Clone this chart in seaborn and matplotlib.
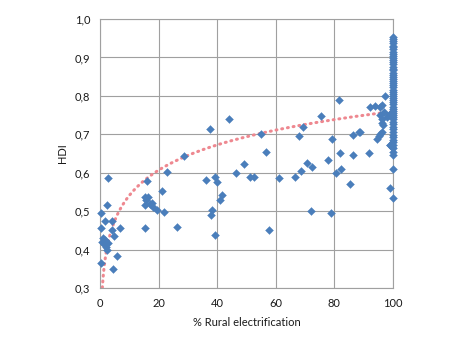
import numpy as np
import pandas as pd
import matplotlib
matplotlib.use("Agg")
import matplotlib.pyplot as plt
import seaborn as sns

# --- data ---
rural_low = [0.2, 2.3, 2.7, 1.7, 4.0, 0.2, 4.0, 6.8, 4.9, 1.1, 1.7, 0.8, 2.3, 1.5, 2.8, 2.1, 2.3, 5.7, 0.2, 4.5]
hdi_low = [0.494, 0.517, 0.585, 0.474, 0.474, 0.455, 0.452, 0.457, 0.435, 0.429, 0.424, 0.420, 0.417, 0.414,
           0.416, 0.407, 0.398, 0.383, 0.364, 0.349]

rural_mid1 = [16.0, 15.4, 16.5, 15.6, 15.4, 17.1, 17.9, 18.2, 19.4, 22.0, 21.3, 22.7, 15.4, 26.4, 28.8]
hdi_mid1 = [0.579, 0.537, 0.536, 0.529, 0.516, 0.518, 0.520, 0.511, 0.502, 0.498, 0.552, 0.603, 0.457, 0.459, 0.644]

rural_mid2 = [37.6, 44.1, 36.3, 39.4, 39.8, 41.6, 41.1, 38.3, 37.9, 39.1, 46.5, 49.0, 51.3, 52.5, 54.9, 56.7, 57.8]
hdi_mid2 = [0.715, 0.739, 0.581, 0.588, 0.575, 0.543, 0.529, 0.502, 0.489, 0.437, 0.599, 0.622, 0.588, 0.588,
            0.700, 0.654, 0.450]

rural_high = [61.2, 66.7, 67.8, 68.7, 69.3, 70.7, 72.2, 72.1, 75.5, 77.8, 79.0, 79.2, 80.4, 81.5, 81.9, 82.1,
              85.2, 86.4, 86.4, 88.3, 88.9]
hdi_high = [0.586, 0.589, 0.696, 0.604, 0.718, 0.625, 0.614, 0.500, 0.748, 0.634, 0.494, 0.689, 0.598, 0.788,
            0.652, 0.609, 0.570, 0.697, 0.646, 0.705, 0.705]

rural_near_full = [91.8, 92.3, 94.0, 95.7, 96.3, 97.4, 96.8, 95.7, 96.3, 96.1, 96.5, 98.0, 98.5, 99.1, 94.6,
                   95.1, 95.7, 96.3, 99.1, 99.7, 98.9, 98.9]
hdi_near_full = [0.652, 0.772, 0.774, 0.770, 0.777, 0.799, 0.759, 0.750, 0.741, 0.730, 0.724, 0.746, 0.750,
                 0.754, 0.689, 0.695, 0.702, 0.707, 0.672, 0.667, 0.559, 0.672]

hdi_full = [0.954, 0.948, 0.942, 0.937, 0.931, 0.926, 0.921, 0.915, 0.909, 0.904, 0.899, 0.893, 0.888, 0.882,
            0.876, 0.871, 0.866, 0.860, 0.855, 0.849, 0.844, 0.838, 0.833, 0.827, 0.822, 0.816, 0.811, 0.805,
            0.800, 0.794, 0.789, 0.783, 0.778, 0.772, 0.767, 0.761, 0.756, 0.750, 0.745, 0.739, 0.733, 0.727,
            0.720, 0.713, 0.706, 0.699, 0.692, 0.686, 0.679, 0.672, 0.664, 0.655, 0.646, 0.609, 0.533]
rural_full = [100.0] * len(hdi_full)

# logarithmic trendline (Excel-style): y = a*ln(x) + b
trend_a = 0.095
trend_b = 0.322
trend_x_start = 0.8

x_ticks = [0, 20, 40, 60, 80, 100]
y_ticks = [0.3, 0.4, 0.5, 0.6, 0.7, 0.8, 0.9, 1.0]
y_tick_labels = ["0,3", "0,4", "0,5", "0,6", "0,7", "0,8", "0,9", "1,0"]

df = pd.DataFrame({
    "rural": rural_low + rural_mid1 + rural_mid2 + rural_high + rural_near_full + rural_full,
    "hdi": hdi_low + hdi_mid1 + hdi_mid2 + hdi_high + hdi_near_full + hdi_full,
})

tx = np.geomspace(trend_x_start, 100, 400)
trend = pd.DataFrame({"rural": tx, "hdi": trend_a * np.log(tx) + trend_b})

sns.set_style("white")
plt.rcParams["font.family"] = ["Lato", "DejaVu Sans"]

fig = plt.figure(figsize=(4.59, 3.45), dpi=100)
ax = fig.add_axes([100 / 459, 1 - 288 / 345, 293 / 459, 269 / 345])

sns.scatterplot(data=df, x="rural", y="hdi", marker="D", s=16, color="#4A7EBB",
                edgecolor="#4A7EBB", linewidth=0.3, ax=ax, zorder=3)
for coll in ax.collections:
    coll.set_clip_on(False)

sns.lineplot(data=trend, x="rural", y="hdi", ax=ax, color="#EE8890", lw=2.2,
             linestyle=(0, (0.3, 1.6)), dash_capstyle="round", zorder=2, estimator=None, sort=False)

ax.set_xlim(0, 100)
ax.set_ylim(0.3, 1.0)
ax.set_xticks(x_ticks)
ax.set_xticklabels([str(t) for t in x_ticks])
ax.set_yticks(y_ticks)
ax.set_yticklabels(y_tick_labels)
ax.grid(True, color="#A0A0A0", lw=0.8)
ax.set_axisbelow(True)
for s in ax.spines.values():
    s.set_color("#A0A0A0")
    s.set_linewidth(0.8)
ax.tick_params(length=0, labelsize=8, colors="#1a1a1a", pad=7)
ax.set_xlabel("% Rural electrification", fontsize=8, color="#1a1a1a", labelpad=6)
ax.set_ylabel("HDI", fontsize=8, color="#1a1a1a", labelpad=5)

fig.savefig("out.png", dpi=100)
